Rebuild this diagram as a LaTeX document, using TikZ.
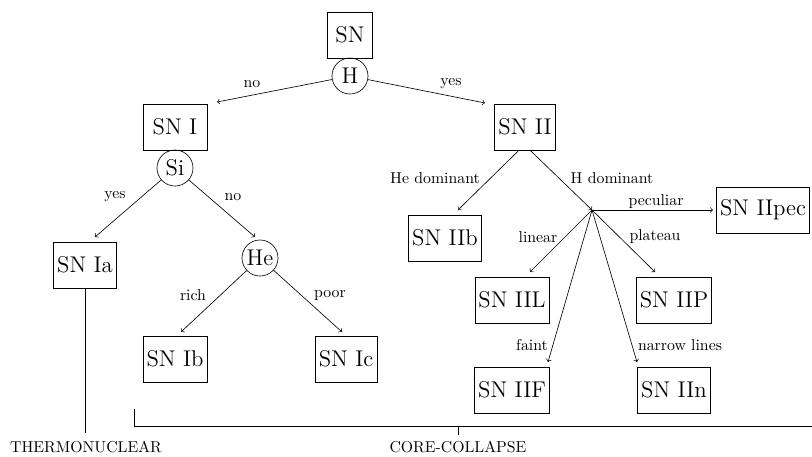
\documentclass[tikz,border=0pt]{standalone}
\usetikzlibrary{calc}
\begin{document}
\begin{tikzpicture}[x=0.6329pt, y=-0.6329pt,
  box/.style={draw, font=\Large, minimum height=29pt, minimum width=28.45pt, inner xsep=2.3pt},
  test/.style={draw, circle, font=\Large, minimum size=22.8pt, inner sep=1pt},
  lbl/.style={font=\normalsize, inner sep=0pt},
  arr/.style={->}]
\useasboundingbox (0,0) rectangle (812,456);

% classification boxes and tests
\node[box] (sn) at (350,35) {SN};
\node[test] (h) at (350,76) {H};
\node[box, minimum width=40.5pt] (snI) at (175,127) {SN I};
\node[box] (snII) at (525,127) {SN II};
\node[test] (si) at (175,168) {Si};
\node[box] (snIa) at (85,265) {SN Ia};
\node[test] (he) at (260,258) {He};
\node[box] (snIb) at (175,359) {SN Ib};
\node[box] (snIc) at (346,359) {SN Ic};
\node[box] (snIIb) at (445,238) {SN IIb};
\node[box] (snIIpec) at (763,210) {SN IIpec};
\node[box] (snIIL) at (512,300) {SN IIL};
\node[box] (snIIP) at (674,300) {SN IIP};
\node[box] (snIIF) at (512,390) {SN IIF};
\node[box] (snIIn) at (674,390) {SN IIn};

% arrow ends and the branch point of the H dominant types
\coordinate (tI) at (217,102);
\coordinate (tII) at (485,103);
\coordinate (tIa) at (95,237);
\coordinate (tHe) at (255,237);
\coordinate (tIb) at (181,332);
\coordinate (tIc) at (342,332);
\coordinate (tIIb) at (458,210);
\coordinate (hdom) at (592,210);
\coordinate (tpec) at (713,210);
\coordinate (tL) at (530,272);
\coordinate (tP) at (655,272);
\coordinate (tF) at (548,362);
\coordinate (tn) at (637,362);

\draw[arr] (h) -- (tI);
\draw[arr] (h) -- (tII);
\draw[arr] (si) -- (tIa);
\draw[arr] (si) -- (tHe);
\draw[arr] (he) -- (tIb);
\draw[arr] (he) -- (tIc);
\draw[arr] ([xshift=-3.8pt]snII.south) -- (tIIb);
\draw[arr] ([xshift=3.2pt]snII.south) -- (hdom);
\draw[arr] (hdom) -- (tpec);
\draw[arr] (hdom) -- (tL);
\draw[arr] (hdom) -- (tP);
\draw[arr] (hdom) -- (tF);
\draw[arr] (hdom) -- (tn);

% branch labels
\node[lbl] (lno) at (252,84) {no};
\node[lbl] (lyes) at (451,84) {yes};
\node[lbl] (lsiyes) at (115,197) {yes};
\node[lbl] (lsino) at (233,197) {no};
\node[lbl] (lrich) at (193,295) {rich};
\node[lbl] (lpoor) at (330,295) {poor};
\node[lbl] (lhedom) at (435,178) {He dominant};
\node[lbl] (lhdom) at (612,178) {H dominant};
\node[lbl] (lpec) at (656,202) {peculiar};
\node[lbl] (llin) at (538,237) {linear};
\node[lbl] (lpla) at (655,237) {plateau};
\node[lbl] (lfaint) at (532,345) {faint};
\node[lbl] (lnarrow) at (680,345) {narrow lines};

% explosion mechanism groups
\node[lbl] (thermo) at (86,447) {THERMONUCLEAR};
\node[lbl] (core) at (458,447) {CORE-COLLAPSE};
\coordinate (thEnd) at (85,433);
\draw (snIa.south) -- (thEnd);
\coordinate (brTop) at (134,409);
\coordinate (brCorner) at (134,426);
\coordinate (brRight) at (812,426);
\coordinate (brTick) at (458,426);
\coordinate (brTickEnd) at (458,435);
\draw (brTop) -- (brCorner) -- (brRight);
\draw (brTick) -- (brTickEnd);
\end{tikzpicture}
\end{document}
